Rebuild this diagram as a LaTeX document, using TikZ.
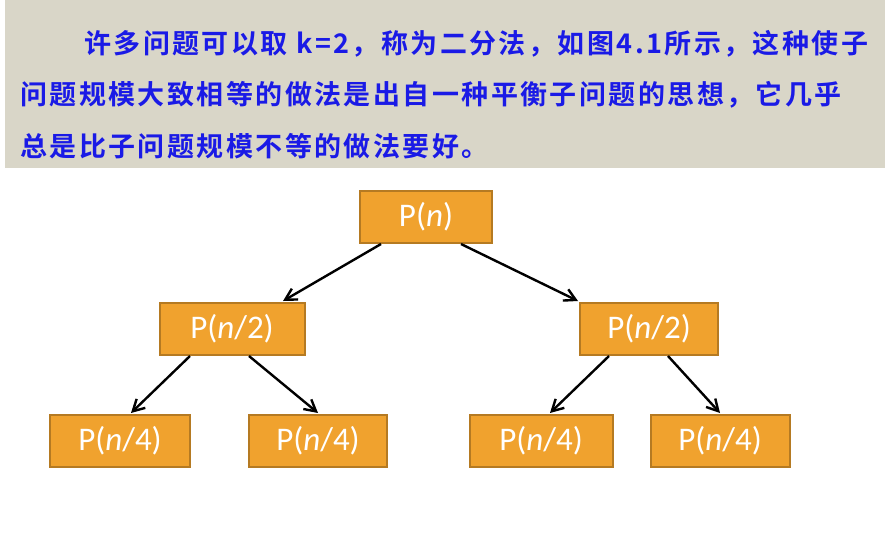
\documentclass[tikz,border=0pt]{standalone}
\usepackage{fontspec}
\usepackage{xcolor}
\usetikzlibrary{arrows.meta,positioning}
\setmainfont{Carlito}
\newfontfamily\cjk[LetterSpace=9]{Noto Sans CJK SC Bold}
\definecolor{banner}{HTML}{D9D6C8}
\definecolor{textblue}{HTML}{1A1AE6}
\definecolor{boxfill}{HTML}{F0A22E}
\definecolor{boxline}{HTML}{B57A22}

\begin{document}
\begin{tikzpicture}[
  x=1pt, y=-1pt,
  prob/.style={draw=boxline, line width=2pt, fill=boxfill, text=white,
    font=\fontsize{33}{36}\selectfont, minimum height=52pt, inner sep=0pt},
  line/.style={font=\cjk\fontsize{27}{30}\selectfont, text=textblue, anchor=west, inner sep=0pt},
  link/.style={-{Straight Barb[length=4mm,width=4.4mm]}, line width=2.4pt, black}
]
\useasboundingbox (0,0) rectangle (885,549);
\fill[banner] (5,0) rectangle (885,168);
\node[line] (t1) at (84,44) {许多问题可以取 k=2，称为二分法，如图4.1所示，这种使子};
\node[line] (t2) at (20,95) {问题规模大致相等的做法是出自一种平衡子问题的思想，它几乎};
\node[line] (t3) at (20,146) {总是比子问题规模不等的做法要好。};

\node[prob, minimum width=132pt] (root) at (426,217) {P(\textit{n})};
\node[prob, minimum width=145pt] (left) at (232,329) {P(\textit{n}/2)};
\node[prob, minimum width=138pt] (right) at (649,329) {P(\textit{n}/2)};
\node[prob, minimum width=140pt] (ll) at (120,441) {P(\textit{n}/4)};
\node[prob, minimum width=138pt] (lr) at (318,441) {P(\textit{n}/4)};
\node[prob, minimum width=143pt] (rl) at (541,441) {P(\textit{n}/4)};
\node[prob, minimum width=139pt] (rr) at (720,441) {P(\textit{n}/4)};

\draw[link] ([xshift=-45pt]root.south) -- ([xshift=51pt,yshift=1pt]left.north);
\draw[link] ([xshift=35pt]root.south) -- ([xshift=-71pt,yshift=1pt]right.north);
\draw[link] ([xshift=-42pt]left.south) -- ([xshift=11pt,yshift=1pt]ll.north);
\draw[link] ([xshift=17pt]left.south) -- ([yshift=1pt]lr.north);
\draw[link] ([xshift=-40pt]right.south) -- ([xshift=9pt,yshift=1pt]rl.north);
\draw[link] ([xshift=19pt]right.south) -- ([yshift=1pt]rr.north);
\end{tikzpicture}
\end{document}
